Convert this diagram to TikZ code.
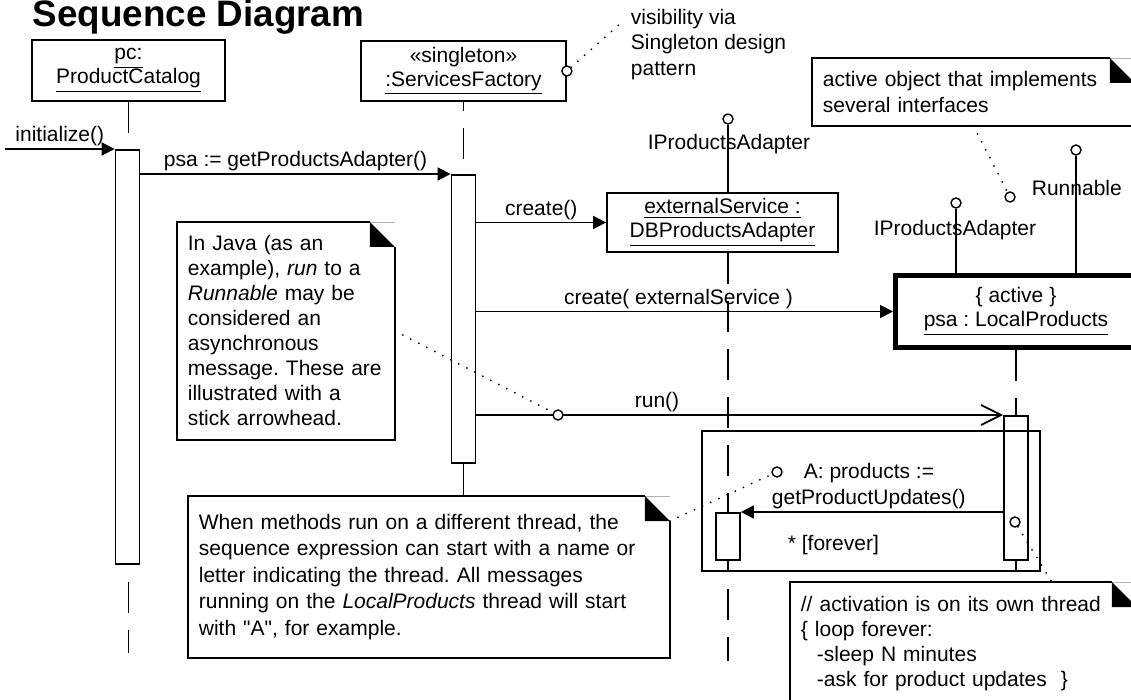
\documentclass[tikz,border=0pt]{standalone}
\usepackage{fontspec}
\setmainfont{Liberation Sans}
\newfontfamily\plainq{Liberation Sans}
\usetikzlibrary{arrows.meta,positioning,calc}
\frenchspacing
\newcommand{\objname}[1]{\underline{#1}}
\newcommand{\sq}{{\plainq"}}
% folded corner of a note, drawn round a named node
\newcommand{\dogear}[1]{%
  \draw[black!30, line width=0.4pt] ([xshift=-12.5pt]#1.north east) -- (#1.north east);
  \draw ([xshift=-12.5pt]#1.north east) -- (#1.north west) -- (#1.south west) -- (#1.south east) -- ([yshift=-12.5pt]#1.north east);
  \fill ([xshift=-12.5pt]#1.north east) -- ([yshift=-12.5pt]#1.north east) -- ([xshift=-12.5pt,yshift=-12.5pt]#1.north east) -- cycle;}

\begin{document}
\begin{tikzpicture}[
  x=0.5pt, y=-0.5pt,
  font=\fontsize{10.5}{12}\selectfont,
  line width=0.9pt,
  >={Triangle[length=6.5pt,width=6.5pt]},
  obj/.style={draw, fill=white, align=center, inner sep=0pt},
  act/.style={draw, fill=white, minimum width=12pt, inner sep=0pt, anchor=north},
  lifeline/.style={dash pattern=on 15.5pt off 8.5pt},
  async/.style={-{Straight Barb[length=10pt,width=10pt]}},
  lbl/.style={above, inner sep=1pt},
  port/.style={circle, draw, fill=white, inner sep=0pt, minimum size=5pt, line width=0.7pt},
  link/.style={line width=1pt, dash pattern=on 0pt off 4.5pt, line cap=round},
  note/.style={inner xsep=5pt, inner ysep=0pt, align=left, anchor=north west,
               font=\fontsize{10.5}{12.5}\selectfont},
]
\useasboundingbox (0,0) rectangle (1131,700);
\clip (0,0) rectangle (1131,700);
\node[anchor=base west, inner sep=0pt, font=\fontsize{18.4}{20}\selectfont\bfseries] (title) at (32,27) {Sequence Diagram};
% objects
\node[obj, minimum width=96.5pt, minimum height=30.5pt] (pc) at (128.5,70.5) {\objname{pc:}\\ \objname{ProductCatalog}};
\node[obj, minimum width=102.5pt, minimum height=30pt] (sf) at (463.5,71) {«singleton»\\ \objname{:ServicesFactory}};
\node[obj, minimum width=115.5pt, minimum height=29.5pt] (db) at (722.5,222.5) {\objname{externalService :}\\ \objname{DBProductsAdapter}};
\node[obj, line width=2.5pt, minimum width=120.5pt, minimum height=36pt] (lp) at (1016,311.5) {\{ active \}\\ \objname{psa : LocalProducts}};
% interfaces (lollipops)
\node[port] (ipaA) at (728,119) {};
\node[port] (ipaB) at (956,203) {};
\node[port] (runIf) at (1076,150) {};
\foreach \i/\o in {ipaA/db, ipaB/lp, runIf/lp} \draw (\i) -- (\i |- \o.north);
\node (ipaAlbl) at (729,144) {IProductsAdapter};
\node (ipaBlbl) at (955,230) {IProductsAdapter};
\node[anchor=west, inner sep=0pt] (runLbl) at (1031,188) {Runnable};
% lifelines
\coordinate (pcEnd) at (128.5,653);
\coordinate (dbEnd) at (728,661);
\node[note, text width=230pt, minimum height=80pt, font=\fontsize{10.5}{13.25}\selectfont] (threadNote) at (188,496) {When methods run on a different thread, the\\ sequence expression can start with a name or\\ letter indicating the thread. All messages\\ running on the \textit{LocalProducts} thread will start\\ with \sq A\sq, for example.};
\node[minimum width=168pt, minimum height=69pt, inner sep=0pt] (loop) at (871,501) {};
\draw[lifeline] (pc.south) -- (pcEnd);
\draw[lifeline, dash phase=11pt] (sf.south) -- (sf.south |- threadNote.north);
\draw[lifeline] (ipaA |- db.south) -- (dbEnd);
\draw[lifeline] (lp.south) -- (lp.south |- loop.south);
% activations
\node[act, minimum height=207pt] (actPC) at (127.5,149) {};
\node[act, minimum height=144pt] (actSF) at (463.5,174) {};
\node[act, minimum height=23.5pt] (actDB) at (728,512) {};
\node[act, minimum height=72pt] (actLP) at (1016,415) {};
\draw (loop.north west) rectangle (loop.south east);
% messages
\coordinate (initStart) at (5,149);
\draw[->] (initStart) -- (initStart -| actPC.west) node[lbl, midway] {initialize()};
\draw[->] (actPC.east |- actSF.north) -- (actSF.north west) node[lbl, midway] {psa := getProductsAdapter()};
\draw[->] (actSF.east |- db.west) -- (db.west) node[lbl, midway] {create()};
\draw[->] (actSF.east |- lp.west) -- (lp.west) node[lbl, pos=0.485] {create( externalService )};
\draw[async] (actSF.east |- actLP.north) -- (actLP.north west) node[lbl, pos=0.343] {run()};
\draw[->] (actLP.west |- actDB.north) -- (actDB.north east);
\node[anchor=south west, align=left, inner sep=0pt, font=\fontsize{10.5}{13}\selectfont] (updLbl) at (771,510) {\hspace*{16pt}A: products :=\\getProductUpdates()};
\node[anchor=west, inner sep=0pt] (fvr) at (787,545) {* [forever]};
% notes
\node[anchor=north west, inner sep=0pt, align=left, font=\fontsize{10.5}{12.75}\selectfont] (visNote) at (630,8) {visibility via\\ Singleton design\\ pattern};
\node[note, text width=98pt, minimum height=108pt] (javaNote) at (177,222) {In Java (as an\\ example), \textit{run} to a\\ \textit{Runnable} may be\\ considered an\\ asynchronous\\ message. These are\\ illustrated with a\\ stick arrowhead.};
\node[note, text width=150.5pt, minimum height=33pt, font=\fontsize{10.5}{13}\selectfont] (activeNote) at (812,58) {active object that implements\\ several interfaces};
\node[note, text width=162.5pt, minimum height=61pt] (actNote) at (790,582) {// activation is on its own thread\\ \{ loop forever:\\ \hspace*{8pt}-sleep N minutes\\ \hspace*{8pt}-ask for product updates\ \ \}};
\foreach \n in {threadNote, javaNote, activeNote, actNote} \dogear{\n};
% note links
\node[port] (pSF) at (sf.east) {};
\node[port] (pRun) at (558,415) {};
\node[port] (pAct) at (1010,197) {};
\node[port] (pUpd) at (777,472) {};
\node[port] (pLoop) at (1015,522) {};
\draw[link] (pSF) -- ([xshift=-4pt,yshift=-7pt]visNote.north west);
\draw[link] (javaNote.east) -- (pRun);
\draw[link] (activeNote.south) -- (pAct);
\draw[link] ([yshift=-12.5pt]threadNote.north east) -- (pUpd);
\draw[link] (pLoop) -- ([xshift=-42.5pt]actNote.north east);
\end{tikzpicture}
\end{document}
